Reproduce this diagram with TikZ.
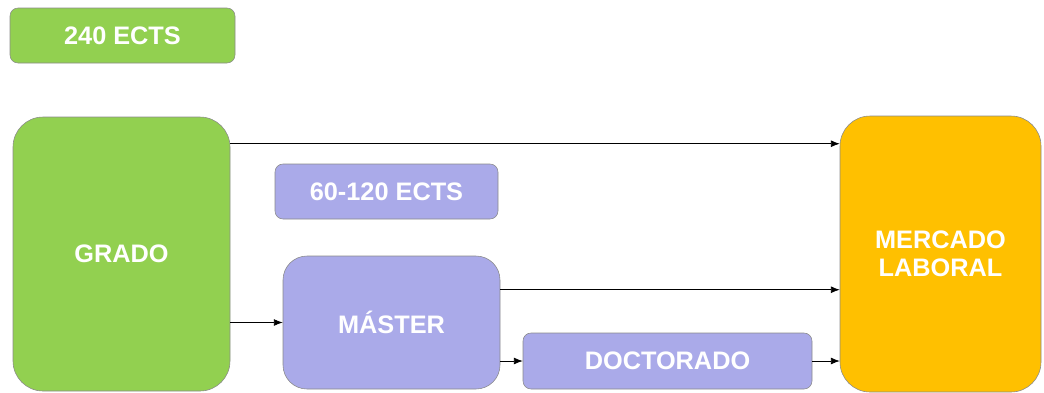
\documentclass[tikz,border=0pt]{standalone}
\usepackage{fontspec}
\setmainfont{Liberation Sans}
\usetikzlibrary{calc, arrows.meta}
\definecolor{verde}{HTML}{92D050}
\definecolor{lila}{HTML}{AAAAE9}
\definecolor{naranja}{HTML}{FFC000}
\definecolor{borde}{HTML}{8A8A8A}
\begin{document}
\begin{tikzpicture}[font=\bfseries\fontsize{18}{20}\selectfont]
\tikzset{%
	caja/.style = {draw=borde, line width=.4pt, rectangle, text=white, align=center, inner sep=0pt},
	etiq/.style = {caja, rounded corners = .2cm},
	grado/.style = {caja, fill=verde, minimum width = 5.425cm, minimum height = 6.85cm, rounded corners = .75cm},
	master/.style = {caja, fill=lila, minimum width = 5.425cm, minimum height = 3.325cm, rounded corners = .6cm},
	mercado/.style = {caja, fill=naranja, minimum width = 5.025cm, minimum height = 6.9cm, rounded corners = .75cm},
	con/.style = {->, line width=.5pt, >={Latex[length=2.2mm, width=1.7mm]}}
}
\useasboundingbox (0,0) rectangle (26.1,-9.8);

% Creditos
\draw node at (3.0625,-0.8875) [etiq, fill=verde, minimum width = 5.625cm, minimum height = 1.375cm] (e240) {240 ECTS};
\draw node at (9.6625,-4.7875) [etiq, fill=lila, minimum width = 5.575cm, minimum height = 1.375cm] (e60) {60-120 ECTS};

% Estudios
\draw node at (3.0375,-6.35) [grado] (gr) {GRADO};
\draw node at (9.7875,-8.0625) [master] (ma) {MÁSTER};
\draw node at (16.6875,-9.025) [etiq, fill=lila, minimum width = 7.225cm, minimum height = 1.4cm] (doc) {DOCTORADO};
\draw node at (23.5125,-6.35) [mercado] (me) {MERCADO\\LABORAL};

\draw[con] ([yshift=-.675cm]gr.north east) -- ([yshift=-.675cm]gr.north east -| me.west);
\draw[con] (gr.east |- ma.west) -- (ma.west);
\draw[con] ([yshift=-.85cm]ma.north east) -- ([yshift=-.85cm]ma.north east -| me.west);
\draw[con] (ma.east |- doc.west) -- (doc.west);
\draw[con] (doc.east) -- (doc.east -| me.west);

\end{tikzpicture}
\end{document}
